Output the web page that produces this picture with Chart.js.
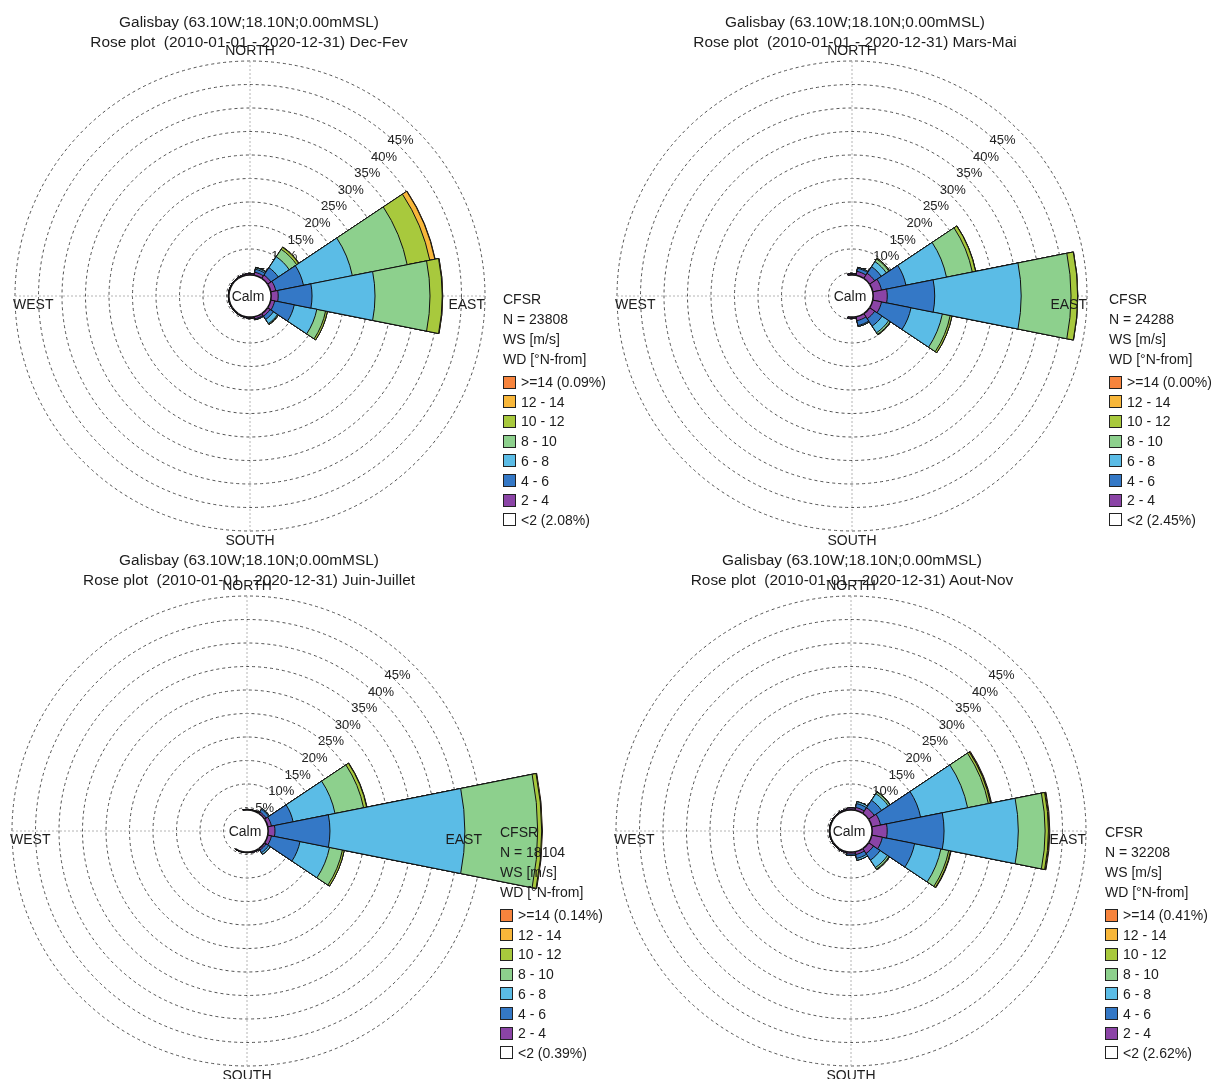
<!DOCTYPE html>
<html>
<head>
<meta charset="utf-8">
<script src="https://cdn.jsdelivr.net/npm/chart.js@4.4.1/dist/chart.umd.min.js"></script>
<style>
html,body{margin:0;padding:0;background:#fff;}
body{width:1211px;height:1079px;position:relative;overflow:hidden;font-family:"Liberation Sans",Arial,Helvetica,sans-serif;color:#1c1c1c;}
canvas{position:absolute;z-index:1;}
.t{position:absolute;white-space:pre;z-index:5;}
.title{font-size:15.4px;line-height:20px;text-align:center;width:600px;}
.lg{font-size:14px;line-height:18px;}
.box{position:absolute;width:13px;height:13px;border:1px solid #222;box-sizing:border-box;z-index:5;}
</style>
</head>
<body>
<script>
// ---------------- data ----------------
const DIRECTIONS = ['N','NNE','NE','ENE','E','ESE','SE','SSE','S','SSW','SW','WSW','W','WNW','NW','NNW'];
const SPEED_BINS = ['2 - 4','4 - 6','6 - 8','8 - 10','10 - 12','12 - 14','>=14'];
const PERIODS = ['Dec-Fev','Mars-Mai','Juin-Juillet','Aout-Nov'];
const N_OBS = [23808, 24288, 18104, 32208];
const CALM_PCT = [2.08, 2.45, 0.39, 2.62];
const GE14_PCT = [0.09, 0.00, 0.14, 0.41];
const RING_TICKS = [5, 10, 15, 20, 25, 30, 35, 40, 45, 50];
const RING_LABELS = [5, 10, 15, 20, 25, 30, 35, 40, 45];
const COMPASS = ['NORTH', 'EAST', 'SOUTH', 'WEST'];
const STATION = 'Galisbay (63.10W;18.10N;0.00mMSL)';
const PERIOD_TEXT = 'Rose plot  (2010-01-01 - 2020-12-31)';

// Frequencies (%) per speed bin [m/s], by direction N..NNW
// Dec-Fev
const DJF_2_4   = [0.30,0.65,0.85,1.10,1.50,0.85,0.65,0.45,0.20,0.15,0.10,0.10,0.10,0.10,0.15,0.20];
const DJF_4_6   = [0,0.65,1.90,6.00,7.20,4.25,0.85,0.20,0,0,0,0,0,0,0,0];
const DJF_6_8   = [0,0.30,2.80,10.6,13.4,4.90,1.05,0,0,0,0,0,0,0,0,0];
const DJF_8_10  = [0,0.10,1.90,11.9,11.7,1.90,0.20,0,0,0,0,0,0,0,0,0];
const DJF_10_12 = [0,0,0.50,4.90,2.60,0.40,0.05,0,0,0,0,0,0,0,0,0];
const DJF_12_14 = [0,0,0.10,1.10,0.10,0,0,0,0,0,0,0,0,0,0,0];
const DJF_GE14  = [0,0,0,0.08,0.01,0,0,0,0,0,0,0,0,0,0,0];
// Mars-Mai
const MAM_2_4   = [0.25,0.85,1.30,1.90,3.00,1.90,1.30,0.85,0.25,0,0,0,0,0,0,0];
const MAM_4_6   = [0,0.65,1.70,5.30,10.1,6.40,1.90,1.05,0.05,0,0,0,0,0,0,0];
const MAM_6_8   = [0,0.20,1.30,8.80,18.4,6.80,1.70,0.20,0,0,0,0,0,0,0,0];
const MAM_8_10  = [0,0,0.65,5.60,10.6,1.70,0.40,0,0,0,0,0,0,0,0,0];
const MAM_10_12 = [0,0,0.20,0.70,1.40,0.40,0.10,0,0,0,0,0,0,0,0,0];
const MAM_12_14 = [0,0,0,0.05,0.05,0,0,0,0,0,0,0,0,0,0,0];
const MAM_GE14  = [0,0,0,0,0,0,0,0,0,0,0,0,0,0,0,0];
// Juin-Juillet
const JJ_2_4    = [0.10,0.10,0.40,0.80,1.45,0.80,0.40,0.20,0.10,0.10,0,0,0,0,0,0];
const JJ_4_6    = [0,0,0.65,4.70,11.7,6.20,0.65,0,0,0,0,0,0,0,0,0];
const JJ_6_8    = [0,0,0.20,9.10,28.7,6.40,0.40,0,0,0,0,0,0,0,0,0];
const JJ_8_10   = [0,0,0,6.20,15.5,2.80,0,0,0,0,0,0,0,0,0,0];
const JJ_10_12  = [0,0,0,0.65,0.85,0.40,0,0,0,0,0,0,0,0,0,0];
const JJ_12_14  = [0,0,0,0.05,0.05,0,0,0,0,0,0,0,0,0,0,0];
const JJ_GE14   = [0,0,0,0.04,0.10,0,0,0,0,0,0,0,0,0,0,0];
// Aout-Nov
const ASON_2_4   = [0.40,0.60,1.45,1.90,3.20,2.30,1.25,0.60,0.40,0.20,0.15,0.10,0.10,0.10,0.15,0.20];
const ASON_4_6   = [0,0.85,1.90,8.70,12.1,7.00,1.70,0.85,0.30,0,0,0,0,0,0,0];
const ASON_6_8   = [0,0.40,1.70,10.2,15.8,5.70,1.90,0.40,0,0,0,0,0,0,0,0];
const ASON_8_10  = [0,0,0.40,4.50,5.70,1.70,0.40,0,0,0,0,0,0,0,0,0];
const ASON_10_12 = [0,0,0.10,0.45,0.70,0.40,0.10,0,0,0,0,0,0,0,0,0];
const ASON_12_14 = [0,0,0,0.10,0.15,0.05,0,0,0,0,0,0,0,0,0,0];
const ASON_GE14  = [0,0,0,0.15,0.15,0.08,0.03,0,0,0,0,0,0,0,0,0];

const PANEL_BINS = [
  [DJF_2_4, DJF_4_6, DJF_6_8, DJF_8_10, DJF_10_12, DJF_12_14, DJF_GE14],
  [MAM_2_4, MAM_4_6, MAM_6_8, MAM_8_10, MAM_10_12, MAM_12_14, MAM_GE14],
  [JJ_2_4, JJ_4_6, JJ_6_8, JJ_8_10, JJ_10_12, JJ_12_14, JJ_GE14],
  [ASON_2_4, ASON_4_6, ASON_6_8, ASON_8_10, ASON_10_12, ASON_12_14, ASON_GE14]
];

// ---------------- style / layout ----------------
const BIN_COLORS = ['#8B44A6','#3478C6','#5BBCE6','#8DD08D','#A8C93D','#F8B73A','#F7843D'];
const CALM_R = 4.5;          // radius of calm disc, in radial-scale units
const R_PX = 235;            // pixel radius of the 50 % ring
const CANVAS = 660;
const CENTERS = [[250,296],[852,296],[247,831],[851,831]];
const TITLE_POS = [[249,22],[855,22],[249,560],[852,560]];
const LEGEND_POS = [[503,299],[1109,299],[500,832],[1105,832]];
const FONT = '"Liberation Sans", Arial, Helvetica, sans-serif';
const LABEL_ANGLE = 45 * Math.PI / 180;

function addText(cls, txt, x, y, extra) {
  const d = document.createElement('div');
  d.className = 't ' + cls;
  d.textContent = txt;
  d.style.left = x + 'px';
  d.style.top = y + 'px';
  if (extra) Object.assign(d.style, extra);
  document.body.appendChild(d);
  return d;
}

const rosePlugin = {
  id: 'rose',
  beforeDatasetsDraw(chart) {
    const s = chart.scales.r, ctx = chart.ctx;
    const R = s.getDistanceFromCenterForValue(s.max);
    ctx.save();
    ctx.strokeStyle = '#b4b4b4';
    ctx.lineWidth = 1;
    ctx.setLineDash([2, 2]);
    ctx.beginPath();
    ctx.moveTo(s.xCenter - R, s.yCenter); ctx.lineTo(s.xCenter + R, s.yCenter);
    ctx.moveTo(s.xCenter, s.yCenter - R); ctx.lineTo(s.xCenter, s.yCenter + R);
    ctx.stroke();
    ctx.setLineDash([]);
    ctx.fillStyle = '#222';
    ctx.font = '13px ' + FONT;
    ctx.textAlign = 'center';
    ctx.textBaseline = 'middle';
    RING_LABELS.forEach(v => {
      const r = s.getDistanceFromCenterForValue(v);
      ctx.fillText(v + '%', s.xCenter + r * Math.sin(LABEL_ANGLE) + 1, s.yCenter - r * Math.cos(LABEL_ANGLE) - 6);
    });
    ctx.restore();
  },
  afterDatasetsDraw(chart) {
    const s = chart.scales.r, ctx = chart.ctx;
    const rc = s.getDistanceFromCenterForValue(CALM_R);
    const R = s.getDistanceFromCenterForValue(s.max);
    ctx.save();
    ctx.fillStyle = '#fff';
    ctx.beginPath();
    ctx.arc(s.xCenter, s.yCenter, rc, 0, Math.PI * 2);
    ctx.fill();
    ctx.strokeStyle = '#111';
    ctx.lineWidth = 1.6;
    const meta = chart.getDatasetMeta(chart.data.datasets.length - 1);
    meta.data.forEach(arc => {
      if (arc.outerRadius > 0) {
        ctx.beginPath();
        ctx.arc(s.xCenter, s.yCenter, rc, arc.startAngle, arc.endAngle);
        ctx.stroke();
      }
    });
    ctx.fillStyle = '#1c1c1c';
    ctx.font = '14px ' + FONT;
    ctx.textAlign = 'center';
    ctx.textBaseline = 'middle';
    ctx.fillText('Calm', s.xCenter - 2, s.yCenter + 1);
    // compass labels
    ctx.textBaseline = 'bottom';
    ctx.fillText(COMPASS[0], s.xCenter, s.yCenter - R - 3);
    ctx.textBaseline = 'top';
    ctx.fillText(COMPASS[2], s.xCenter, s.yCenter + R + 3);
    ctx.textAlign = 'right';
    ctx.fillText(COMPASS[1], s.xCenter + R, s.yCenter + 2);
    ctx.textAlign = 'left';
    ctx.fillText(COMPASS[3], s.xCenter - R - 2, s.yCenter + 2);
    ctx.restore();
  }
};

function makePanel(p) {
  const [cx, cy] = CENTERS[p];
  const cv = document.createElement('canvas');
  cv.width = CANVAS; cv.height = CANVAS;
  cv.style.width = CANVAS + 'px'; cv.style.height = CANVAS + 'px';
  cv.style.left = (cx - CANVAS / 2) + 'px';
  cv.style.top = (cy - CANVAS / 2) + 'px';
  document.body.appendChild(cv);

  const bins = PANEL_BINS[p];
  const totals = DIRECTIONS.map((d, i) => bins.reduce((a, arr) => a + arr[i], 0));
  let cum = DIRECTIONS.map(() => CALM_R);
  const datasets = bins.map((arr, j) => {
    cum = cum.map((c, i) => c + arr[i]);
    return {
      label: SPEED_BINS[j],
      data: cum.map((c, i) => totals[i] > 0 ? c : 0),
      backgroundColor: BIN_COLORS[j],
      borderColor: '#111',
      borderWidth: 1,
      borderJoinStyle: 'miter',
      clip: false
    };
  });

  new Chart(cv, {
    type: 'polarArea',
    data: { labels: DIRECTIONS, datasets },
    options: {
      responsive: false,
      animation: false,
      events: [],
      devicePixelRatio: 1,
      layout: { padding: CANVAS / 2 - R_PX },
      plugins: { legend: { display: false }, tooltip: { enabled: false }, title: { display: false } },
      scales: {
        r: {
          type: 'radialLinear',
          min: 0, max: RING_TICKS[RING_TICKS.length - 1],
          startAngle: -360 / DIRECTIONS.length / 2,
          ticks: { display: false, stepSize: RING_TICKS[1] - RING_TICKS[0] },
          grid: { circular: true, color: '#404040', lineWidth: 0.9 },
          border: { dash: [3, 3] },
          angleLines: { display: false },
          pointLabels: { display: false }
        }
      }
    },
    plugins: [rosePlugin]
  });

  // titles
  const [tx, ty] = TITLE_POS[p];
  addText('title', STATION, tx - 300, ty - 10);
  addText('title', PERIOD_TEXT + ' ' + PERIODS[p], tx - 300, ty + 10);

  // legend
  const [lx, ly] = LEGEND_POS[p];
  const head = ['CFSR', 'N = ' + N_OBS[p], 'WS [m/s]', 'WD [\u00B0N-from]'];
  head.forEach((h, k) => addText('lg', h, lx, ly - 9 + k * 20));
  const items = [];
  for (let j = SPEED_BINS.length - 1; j >= 0; j--) {
    const lab = j === SPEED_BINS.length - 1 ? SPEED_BINS[j] + ' (' + GE14_PCT[p].toFixed(2) + '%)' : SPEED_BINS[j];
    items.push([lab, BIN_COLORS[j]]);
  }
  items.push(['<2 (' + CALM_PCT[p].toFixed(2) + '%)', '#ffffff']);
  items.forEach(([lab, col], k) => {
    const yc = ly + 83 + k * 19.7;
    const b = document.createElement('div');
    b.className = 'box';
    b.style.left = (lx) + 'px';
    b.style.top = (yc - 6.5) + 'px';
    b.style.background = col;
    document.body.appendChild(b);
    addText('lg', lab, lx + 18, yc - 9);
  });
}

for (let p = 0; p < 4; p++) makePanel(p);
</script>
</body>
</html>
